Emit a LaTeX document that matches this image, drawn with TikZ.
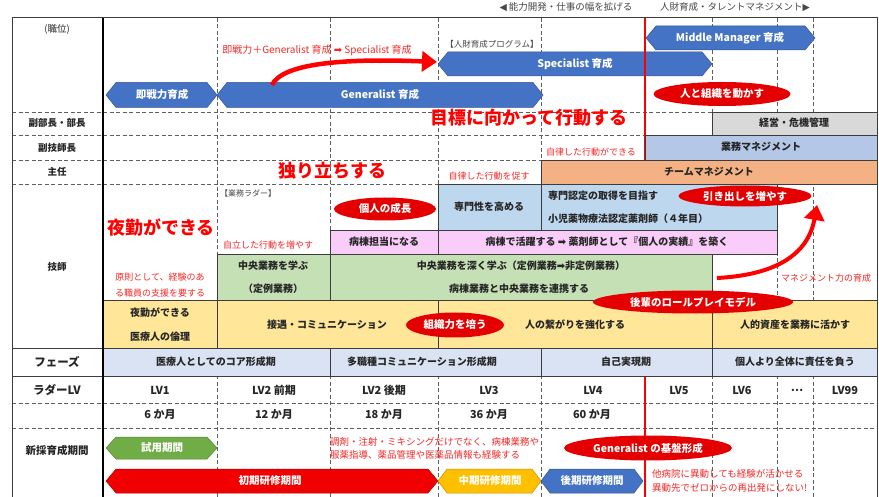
\documentclass[tikz,border=0pt]{standalone}
\usepackage{fontspec}
\setmainfont{Noto Sans CJK JP}
\newfontfamily\symf{DejaVu Sans}
\usetikzlibrary{shapes.geometric,arrows.meta}
\definecolor{txt}{RGB}{38,38,38}
\definecolor{rtxt}{RGB}{245,40,40}
\definecolor{dgray}{RGB}{95,95,95}
\definecolor{bord}{RGB}{60,60,60}
\definecolor{hblue}{RGB}{68,114,196}
\definecolor{hgreen}{RGB}{112,173,71}
\definecolor{hred}{RGB}{240,0,0}
\definecolor{horange}{RGB}{255,192,0}
\definecolor{ovalred}{RGB}{228,0,0}
\definecolor{fgray}{RGB}{217,217,217}
\definecolor{fblueA}{RGB}{180,199,231}
\definecolor{forange}{RGB}{244,177,131}
\definecolor{fblueB}{RGB}{189,215,238}
\definecolor{fpink}{RGB}{250,204,250}
\definecolor{fgreen}{RGB}{197,224,180}
\definecolor{fyellow}{RGB}{255,230,153}
\definecolor{fphase}{RGB}{218,227,243}
\newcommand\hexa[6]{%
  \filldraw[fill=#6, draw=#6!75!black, line width=0.5pt] (#1,#3) -- ({#1+#5},{#3-#4}) -- ({#2-#5},{#3-#4}) -- (#2,#3) -- ({#2-#5},{#3+#4}) -- ({#1+#5},{#3+#4}) -- cycle;}
\begin{document}
\begin{tikzpicture}[x=1pt,y=-1pt,
  dsh/.style={draw=dgray, line width=0.9pt, dash pattern=on 4pt off 2.5pt},
  bx/.style={draw=bord, line width=0.7pt},
  btxt/.style={font=\fontsize{10}{12}\selectfont\bfseries, text=txt, inner sep=0pt},
  lvtxt/.style={font=\fontsize{11}{12}\selectfont\bfseries, text=txt, inner sep=0pt},
  lbl/.style={font=\fontsize{9.5}{12}\selectfont\bfseries, text=txt, inner sep=0pt},
  biglbl/.style={font=\fontsize{11.5}{14}\selectfont\bfseries, text=txt, inner sep=0pt},
  rsm/.style={font=\fontsize{9}{13}\selectfont, text=rtxt, inner sep=0pt},
  rbig/.style={font=\fontsize{18}{20}\selectfont\bfseries, text=red, inner sep=0pt},
  hext/.style={font=\fontsize{10.5}{12}\selectfont\bfseries, text=white, inner sep=0pt},
  oval/.style={ellipse, fill=ovalred, inner sep=0pt, font=\fontsize{10.5}{12}\selectfont\bfseries, text=white},
  gtxt/.style={font=\fontsize{8.5}{10}\selectfont, text=txt!85, inner sep=0pt},
  bigarrow/.style={draw=red, line width=4.5pt, -{Triangle[length=15pt,width=20pt]}}
]
\fill[white] (0,0) rectangle (879,497);
\useasboundingbox (0,0) rectangle (879,497);

% dashed grid
\foreach \xx in {217,330,438,541,712,777,813} \draw[dsh] (\xx,18) -- (\xx,497);
\foreach \yy in {112,135,160,184,403,428} \draw[dsh] (12,\yy) -- (877,\yy);

% hexagon arrows
\hexa{106}{217}{95}{12.5}{10}{hblue}
\hexa{217}{543}{95}{12.5}{10}{hblue}
\hexa{438}{712}{64}{12}{10}{hblue}
\hexa{646}{815}{38}{12}{10}{hblue}
\hexa{106}{217}{448}{11}{10}{hgreen}
\hexa{106}{438}{481}{12}{10}{hred}
\hexa{438}{541}{481}{12}{9}{horange}
\hexa{541}{643}{481}{12}{9}{hblue}

% red vertical line
\draw[red, line width=2.4pt] (645,18) -- (645,497);

% boxes
\draw[bx, fill=fgray] (712,112) rectangle (877,135);
\draw[bx, fill=fblueA] (645,135) rectangle (877,160);
\draw[bx, fill=forange] (541,160) rectangle (877,184);
\draw[bx, fill=fblueB] (438,184) rectangle (541,230);
\draw[bx, fill=fblueB] (541,184) rectangle (777,230);
\draw[bx, fill=fpink] (330,230) rectangle (438,254);
\draw[bx, fill=fpink] (438,230) rectangle (777,254);
\draw[bx, fill=fgreen] (217,254) rectangle (330,300);
\draw[bx, fill=fgreen] (330,254) rectangle (712,300);
\draw[bx, fill=fyellow] (103,300) rectangle (217,348);
\draw[bx, fill=fyellow] (217,300) rectangle (438,348);
\draw[bx, fill=fyellow] (438,300) rectangle (712,348);
\draw[bx, fill=fyellow] (712,300) rectangle (877,348);
\draw[bx, fill=fphase] (103,348) rectangle (330,376);
\draw[bx, fill=fphase] (330,348) rectangle (541,376);
\draw[bx, fill=fphase] (541,348) rectangle (712,376);
\draw[bx, fill=fphase] (712,348) rectangle (877,376);
\draw[bx] (12,348) -- (103,348);
\draw[bx] (12,376) -- (103,376);

% frame
\draw[bord, line width=1pt] (12,497) -- (12,18) -- (877,18) -- (877,497);
\draw[black, line width=1.6pt] (103,18) -- (103,497);

% red curved arrows
\coordinate (a1s) at (272,85);
\coordinate (a1e) at (437,62);
\draw[bigarrow] (a1s) .. controls (282,64) and (340,58) .. (a1e);
\coordinate (a2s) at (717,278);
\coordinate (a2e) at (817,205);
\draw[bigarrow, line width=4pt] (a2s) .. controls (775,275) and (808,255) .. (a2e);

% header texts
\node[gtxt, font=\fontsize{9.5}{10}\selectfont] (h1) at (566,7) {{\symf ◀} 能力開発・仕事の幅を拡げる};
\node[gtxt, font=\fontsize{9.5}{10}\selectfont] (h2) at (735,7) {人財育成・タレントマネジメント{\symf ▶}};

% label column
\node[lbl, font=\fontsize{9.5}{12}\selectfont] (l0) at (57,29) {(職位)};
\node[lbl] (l1) at (57,123) {副部長・部長};
\node[lbl] (l2) at (57,148) {副技師長};
\node[lbl] (l3) at (57,172) {主任};
\node[lbl] (l4) at (57,267) {技師};
\node[biglbl] (l5) at (57,362) {フェーズ};
\node[biglbl] (l6) at (57,390) {ラダーLV};
\node[lbl, font=\fontsize{10.5}{12}\selectfont\bfseries] (l7) at (57,450) {新採育成期間};

% hexagon labels
\node[hext] (x1) at (162,95) {即戦力育成};
\node[hext] (x2) at (380,95) {Generalist 育成};
\node[hext] (x3) at (575,64) {Specialist 育成};
\node[hext] (x4) at (730,38) {Middle Manager 育成};
\node[hext] (x5) at (162,448) {試用期間};
\node[hext] (x6) at (270,481) {初期研修期間};
\node[hext] (x7) at (490,481) {中期研修期間};
\node[hext] (x8) at (592,481) {後期研修期間};

% ovals
\node[oval, minimum width=137pt, minimum height=24pt] (o1) at (722,94) {人と組織を動かす};
\node[oval, minimum width=102pt, minimum height=23pt] (o2) at (385,209) {個人の成長};
\node[oval, minimum width=133pt, minimum height=21pt] (o3) at (745,196) {引き出しを増やす};
\node[oval, minimum width=98pt, minimum height=25pt] (o4) at (455,325) {組織力を培う};
\node[oval, minimum width=200pt, minimum height=23pt] (o5) at (693,302) {後輩のロールプレイモデル};
\node[oval, minimum width=168pt, minimum height=25pt] (o6) at (648,448) {Generalist の基盤形成};

% red texts
\node[rsm, font=\fontsize{10}{12}\selectfont] (r1) at (317,50) {即戦力＋Generalist 育成 {\symf ➡} Specialist 育成};
\node[gtxt] (g1) at (492,44) {【人財育成プログラム】};
\node[rbig] (r2) at (529,118) {目標に向かって行動する};
\node[rsm] (r3) at (591,152) {自律した行動ができる};
\node[rsm] (r4) at (489,176) {自律した行動を促す};
\node[rbig] (r5) at (332,171) {独り立ちする};
\node[gtxt, font=\fontsize{8}{10}\selectfont] (g2) at (248,193) {【業務ラダー】};
\node[rbig] (r6) at (161,227) {夜勤ができる};
\node[rsm] (r7) at (268,245) {自立した行動を増やす};
\node[rsm, align=center, font=\fontsize{9}{16}\selectfont] (r8) at (160,285) {原則として、経験のあ\\る職員の支援を要する};
\node[rsm] (r9) at (826,278) {マネジメント力の育成};
\node[rsm, align=left, anchor=west, font=\fontsize{9.5}{13}\selectfont] (r10) at (330,448) {調剤・注射・ミキシングだけでなく、病棟業務や\\服薬指導、薬品管理や医薬品情報も経験する};
\node[rsm, align=left, anchor=west, font=\fontsize{9.5}{14}\selectfont] (r11) at (652,481) {他病院に異動しても経験が活かせる\\異動先でゼロからの再出発にしない!};

% box texts
\node[btxt] (b1) at (794,123) {経営・危機管理};
\node[btxt] (b2) at (761,147) {業務マネジメント};
\node[btxt] (b3) at (709,172) {チームマネジメント};
\node[btxt] (b4) at (489,207) {専門性を高める};
\node[btxt, anchor=west] (b5) at (548,196) {専門認定の取得を目指す};
\node[btxt, anchor=west] (b6) at (548,219) {小児薬物療法認定薬剤師（４年目）};
\node[btxt] (b7) at (384,242) {病棟担当になる};
\node[btxt] (b8) at (607,242) {病棟で活躍する {\symf ➡} 薬剤師として『個人の実績』を築く};
\node[btxt] (b9) at (273,266) {中央業務を学ぶ};
\node[btxt] (b10) at (273,289) {（定例業務）};
\node[btxt] (b11) at (521,266) {中央業務を深く学ぶ（定例業務{\symf ➡}非定例業務）};
\node[btxt] (b12) at (519,289) {病棟業務と中央業務を連携する};
\node[btxt] (b13) at (160,313) {夜勤ができる};
\node[btxt] (b14) at (160,337) {医療人の倫理};
\node[btxt] (b15) at (327,325) {接遇・コミュニケーション};
\node[btxt] (b16) at (575,325) {人の繋がりを強化する};
\node[btxt] (b17) at (795,325) {人的資産を業務に活かす};
\node[btxt] (p1) at (216,362) {医療人としてのコア形成期};
\node[btxt] (p2) at (422,362) {多職種コミュニケーション形成期};
\node[btxt] (p3) at (626,362) {自己実現期};
\node[btxt] (p4) at (795,362) {個人より全体に責任を負う};

% ladder levels
\node[lvtxt] (v1) at (160,390) {LV1};
\node[lvtxt] (v2) at (274,390) {LV2 前期};
\node[lvtxt] (v3) at (384,390) {LV2 後期};
\node[lvtxt] (v4) at (489,390) {LV3};
\node[lvtxt] (v5) at (593,390) {LV4};
\node[lvtxt] (v6) at (679,390) {LV5};
\node[lvtxt] (v7) at (742,390) {LV6};
\node[lvtxt] (v8) at (797,390) {…};
\node[lvtxt] (v9) at (845,390) {LV99};
\node[lvtxt] (m1) at (160,415) {6 か月};
\node[lvtxt] (m2) at (274,415) {12 か月};
\node[lvtxt] (m3) at (384,415) {18 か月};
\node[lvtxt] (m4) at (489,415) {36 か月};
\node[lvtxt] (m5) at (592,415) {60 か月};
\end{tikzpicture}
\end{document}
